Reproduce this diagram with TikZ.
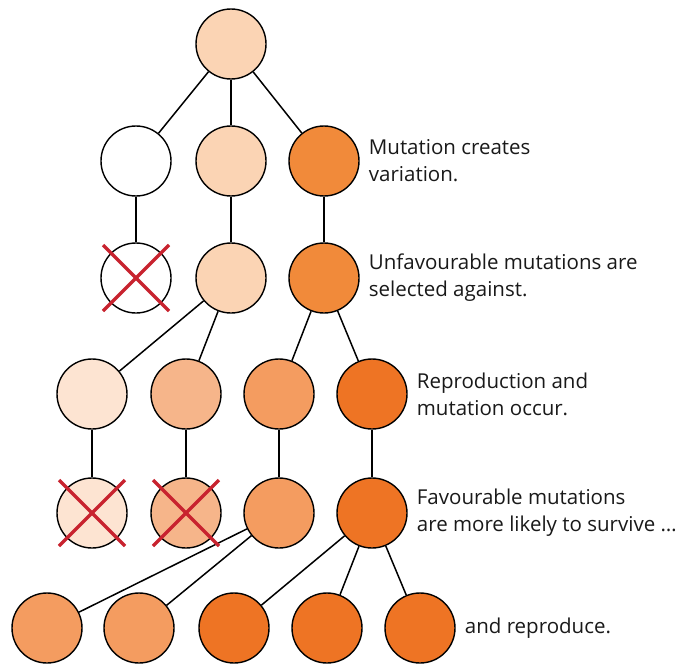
\documentclass[tikz,border=0pt]{standalone}
\usepackage{fontspec}
\setmainfont{Open Sans}
\usepackage{xcolor}
\usepackage{tikz}
\usetikzlibrary{positioning,calc}
\definecolor{palepeach}{HTML}{FDE4D2}
\definecolor{peach}{HTML}{FBD4B4}
\definecolor{apricot}{HTML}{F6B58A}
\definecolor{midorange}{HTML}{F49C60}
\definecolor{lightorange}{HTML}{F18A3A}
\definecolor{deeporange}{HTML}{EE7424}
\definecolor{crossred}{HTML}{C8232F}
\tikzset{
    cell/.style={circle, draw, line width=1.4pt, minimum size=70pt, inner sep=0pt},
    line/.style={draw, line width=1.5pt},
    cross/.style={draw=crossred, line width=3.5pt},
    note/.style={align=left, inner sep=0pt, text=black!90, font=\fontsize{20.5}{27}\selectfont}
}

\begin{document}
\begin{tikzpicture}[x=1pt, y=-1pt]
    \useasboundingbox (0,0) rectangle (691,669);

    % Ancestor
    \node [cell, fill=peach] (top) at (231,44) {};

    % First generation: mutation creates variation
    \node [cell, fill=white] (r2a) at (136,161) {};
    \node [cell, fill=peach] (r2b) at (231,161) {};
    \node [cell, fill=lightorange] (r2c) at (324,161) {};

    % Selection
    \node [cell, fill=white] (r3a) at (136,278) {};
    \node [cell, fill=peach] (r3b) at (231,278) {};
    \node [cell, fill=lightorange] (r3c) at (324,278) {};

    % Second generation
    \node [cell, fill=palepeach] (r4a) at (92,394) {};
    \node [cell, fill=apricot] (r4b) at (186,394) {};
    \node [cell, fill=midorange] (r4c) at (279,394) {};
    \node [cell, fill=deeporange] (r4d) at (372,394) {};

    % Survivors
    \node [cell, fill=palepeach] (r5a) at (92,513) {};
    \node [cell, fill=apricot] (r5b) at (186,513) {};
    \node [cell, fill=midorange] (r5c) at (279,513) {};
    \node [cell, fill=deeporange] (r5d) at (372,513) {};

    % Offspring
    \node [cell, fill=midorange] (r6a) at (47,628) {};
    \node [cell, fill=midorange] (r6b) at (139,628) {};
    \node [cell, fill=deeporange] (r6c) at (234,628) {};
    \node [cell, fill=deeporange] (r6d) at (327,628) {};
    \node [cell, fill=deeporange] (r6e) at (420,628) {};

    % Connections
    \path [line] (top) -- (r2a);
    \path [line] (top) -- (r2b);
    \path [line] (top) -- (r2c);
    \path [line] (r2a) -- (r3a);
    \path [line] (r2b) -- (r3b);
    \path [line] (r2c) -- (r3c);
    \path [line] (r3b) -- (r4a);
    \path [line] (r3b) -- (r4b);
    \path [line] (r3c) -- (r4c);
    \path [line] (r3c) -- (r4d);
    \path [line] (r4a) -- (r5a);
    \path [line] (r4b) -- (r5b);
    \path [line] (r4c) -- (r5c);
    \path [line] (r4d) -- (r5d);
    \path [line] (r5c) -- (r6a);
    \path [line] (r5c) -- (r6b);
    \path [line] (r5d) -- (r6c);
    \path [line] (r5d) -- (r6d);
    \path [line] (r5d) -- (r6e);

    % Crossed out (selected against)
    \draw [cross] ([shift={(-33pt,33pt)}]r3a.center) -- ([shift={(33pt,-33pt)}]r3a.center);
    \draw [cross] ([shift={(-33pt,-33pt)}]r3a.center) -- ([shift={(33pt,33pt)}]r3a.center);
    \draw [cross] ([shift={(-33pt,33pt)}]r5a.center) -- ([shift={(33pt,-33pt)}]r5a.center);
    \draw [cross] ([shift={(-33pt,-33pt)}]r5a.center) -- ([shift={(33pt,33pt)}]r5a.center);
    \draw [cross] ([shift={(-33pt,33pt)}]r5b.center) -- ([shift={(33pt,-33pt)}]r5b.center);
    \draw [cross] ([shift={(-33pt,-33pt)}]r5b.center) -- ([shift={(33pt,33pt)}]r5b.center);

    % Captions
    \node [note, right=9pt of r2c] (variation) {Mutation creates\\variation.};
    \node [note, right=9pt of r3c] (against) {Unfavourable mutations are\\selected against.};
    \node [note, right=9pt of r4d] (occur) {Reproduction and\\mutation occur.};
    \node [note, right=9pt of r5d] (survive) {Favourable mutations\\are more likely to survive \dots};
    \node [note, right=9pt of r6e] (reproduce) {and reproduce.};
\end{tikzpicture}
\end{document}
